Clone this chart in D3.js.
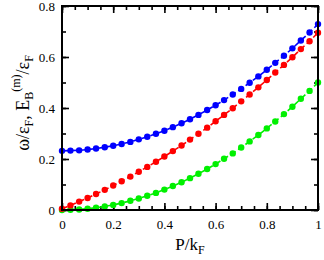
<!DOCTYPE html>
<html>
<head>
<meta charset="utf-8">
<style>
    body { margin: 0; background: #fff; }
    text { font-family: 'Liberation Serif', 'Times New Roman', serif; }
</style>
</head>
<body>
    <script src="https://d3js.org/d3.v7.min.js"></script>
    <script>
        // momentum P/kF, sampled every 1/30
        var P = [0, 0.033, 0.067, 0.1, 0.133, 0.167, 0.2, 0.233, 0.267, 0.3,
                 0.333, 0.367, 0.4, 0.433, 0.467, 0.5, 0.533, 0.567, 0.6, 0.633,
                 0.667, 0.7, 0.733, 0.767, 0.8, 0.833, 0.867, 0.9, 0.933, 0.967, 1];

        var blue = [0.232, 0.233, 0.234, 0.237, 0.241, 0.246, 0.252, 0.259, 0.267, 0.277,
                    0.287, 0.299, 0.311, 0.325, 0.340, 0.356, 0.373, 0.392, 0.411, 0.431,
                    0.453, 0.475, 0.499, 0.524, 0.550, 0.577, 0.605, 0.634, 0.665, 0.696, 0.729];

        var red = [0.005, 0.018, 0.033, 0.047, 0.063, 0.079, 0.096, 0.113, 0.131, 0.150,
                   0.169, 0.189, 0.210, 0.231, 0.253, 0.276, 0.299, 0.323, 0.348, 0.373,
                   0.399, 0.426, 0.453, 0.481, 0.510, 0.539, 0.569, 0.599, 0.631, 0.662, 0.695];

        var green = [0, 0.001, 0.002, 0.005, 0.009, 0.014, 0.020, 0.027, 0.036, 0.045,
                     0.056, 0.067, 0.080, 0.094, 0.109, 0.125, 0.142, 0.161, 0.180, 0.201,
                     0.222, 0.245, 0.269, 0.294, 0.320, 0.347, 0.376, 0.405, 0.436, 0.467, 0.500];

        var xTicks = [0, 0.2, 0.4, 0.6, 0.8, 1];
        var xTickLabels = ['0', '0.2', '0.4', '0.6', '0.8', '1'];
        var yTicks = [0, 0.2, 0.4, 0.6, 0.8];
        var yTickLabels = ['0', '0.2', '0.4', '0.6', '0.8'];

        var margin = {left: 62, top: 6, right: 6, bottom: 50},
            width = 324 - margin.left - margin.right,
            height = 260 - margin.top - margin.bottom;

        var svg = d3.select('body').append('svg')
            .attr('width', width + margin.left + margin.right)
            .attr('height', height + margin.top + margin.bottom)
            .append('g')
            .attr('transform', 'translate(' + [margin.left, margin.top] + ')');

        var x = d3.scaleLinear().domain([0, 1]).range([0, width]);
        var y = d3.scaleLinear().domain([0, 0.8]).range([height, 0]);

        var xMinor = d3.range(0, 21).map(d => d * 0.05);
        var yMinor = d3.range(0, 9).map(d => d * 0.1);

        function styleAxis(g) {
            g.select('.domain').remove();
            g.selectAll('line').attr('stroke', '#000').attr('stroke-width', 1.6);
            g.selectAll('text').attr('font-size', 13).attr('fill', '#000')
                .style('font-family', "'Liberation Serif', 'Times New Roman', serif");
        }

        // minor ticks, all four sides, pointing in
        svg.append('g').attr('transform', 'translate(0,' + height + ')')
            .call(d3.axisBottom(x).tickValues(xMinor).tickSize(-4).tickFormat(''))
            .call(styleAxis);
        svg.append('g')
            .call(d3.axisTop(x).tickValues(xMinor).tickSize(-4).tickFormat(''))
            .call(styleAxis);
        svg.append('g')
            .call(d3.axisLeft(y).tickValues(yMinor).tickSize(-4).tickFormat(''))
            .call(styleAxis);
        svg.append('g').attr('transform', 'translate(' + width + ',0)')
            .call(d3.axisRight(y).tickValues(yMinor).tickSize(-4).tickFormat(''))
            .call(styleAxis);

        // major ticks with labels
        svg.append('g').attr('transform', 'translate(0,' + height + ')')
            .call(d3.axisBottom(x).tickValues(xTicks).tickSize(-7).tickPadding(10)
                .tickFormat((d, i) => xTickLabels[i]))
            .call(styleAxis);
        svg.append('g')
            .call(d3.axisTop(x).tickValues(xTicks).tickSize(-7).tickFormat(''))
            .call(styleAxis);
        svg.append('g')
            .call(d3.axisLeft(y).tickValues(yTicks).tickSize(-7).tickPadding(7)
                .tickFormat((d, i) => yTickLabels[i]))
            .call(styleAxis);
        svg.append('g').attr('transform', 'translate(' + width + ',0)')
            .call(d3.axisRight(y).tickValues(yTicks).tickSize(-7).tickFormat(''))
            .call(styleAxis);

        var series = [
            {values: green, color: '#00f000'},
            {values: red, color: '#ff0000'},
            {values: blue, color: '#0000ff'}
        ];

        var line = d3.line()
            .x((d, i) => x(P[i]))
            .y(d => y(d));

        var groups = svg.selectAll('g.series')
            .data(series)
            .enter().append('g')
            .attr('class', 'series');

        groups.append('path')
            .attr('d', d => line(d.values))
            .attr('fill', 'none')
            .attr('stroke', d => d.color)
            .attr('stroke-width', 1.6)
            .attr('stroke-dasharray', '6,3');

        groups.each(function(s) {
            d3.select(this).selectAll('circle')
                .data(s.values)
                .enter().append('circle')
                .attr('cx', (d, i) => x(P[i]))
                .attr('cy', d => y(d))
                .attr('r', 3.2)
                .attr('fill', s.color);
        });

        // frame
        svg.append('rect')
            .attr('width', width)
            .attr('height', height)
            .attr('fill', 'none')
            .attr('stroke', '#000')
            .attr('stroke-width', 2);

        // axis titles
        var xt = svg.append('text')
            .attr('x', x(0.5))
            .attr('y', height + 40)
            .attr('text-anchor', 'middle')
            .attr('font-size', 17);
        xt.append('tspan').text('P/k');
        xt.append('tspan').attr('font-size', 12).attr('dy', 4).text('F');

        var yt = svg.append('text')
            .attr('transform', 'translate(' + (-33) + ',' + 97 + ') rotate(-90)')
            .attr('text-anchor', 'middle')
            .attr('font-size', 18);
        yt.append('tspan').text('ω/ε');
        yt.append('tspan').attr('font-size', 12).attr('dy', 4).text('F');
        yt.append('tspan').attr('dy', -4).text(', E');
        yt.append('tspan').attr('font-size', 12).attr('dy', 4).text('B');
        yt.append('tspan').attr('font-size', 12).attr('dy', -13).text('(m)');
        yt.append('tspan').attr('dy', 9).text('/ε');
        yt.append('tspan').attr('font-size', 12).attr('dy', 4).text('F');
    </script>
</body>
</html>
